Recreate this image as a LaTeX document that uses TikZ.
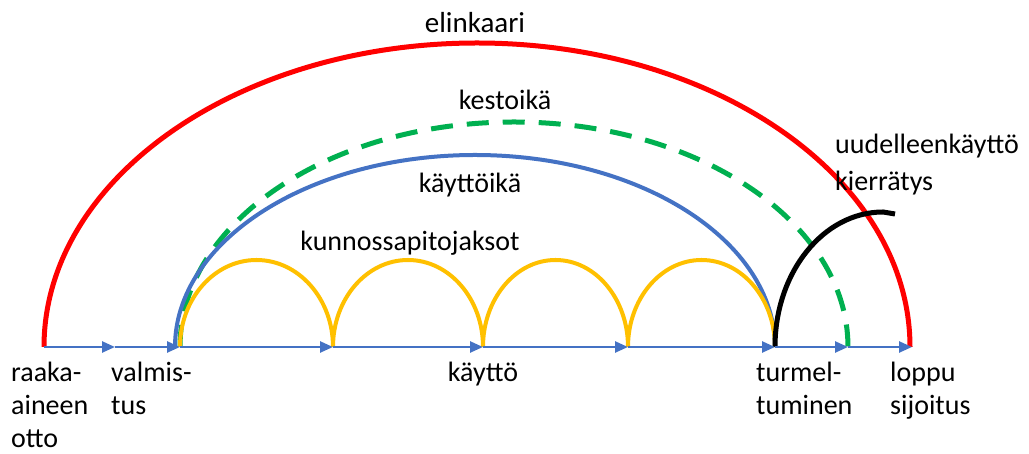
\documentclass[tikz,border=0pt]{standalone}
\usepackage{fontspec}
\setmainfont{Carlito}
\usetikzlibrary{arrows.meta}
\definecolor{punainen}{RGB}{255,0,0}
\definecolor{vihrea}{RGB}{0,176,80}
\definecolor{sininen}{RGB}{68,114,196}
\definecolor{keltainen}{RGB}{255,192,0}
\tikzset{
  vaihe/.style={sininen,line width=2.5pt,-{Triangle[length=13pt,width=11pt]}},
  teksti/.style={inner sep=0pt,align=left,font=\fontsize{28}{33}\selectfont},
}
\begin{document}
\begin{tikzpicture}[x=1pt,y=1pt]
    \useasboundingbox (0,0) rectangle (1029,454);
    \def\pohja{107}

    % pisteet aika-akselilla
    \coordinate (raaka) at (44,\pohja);
    \coordinate (valm1) at (115,\pohja);
    \coordinate (valm2) at (180,\pohja);
    \coordinate (k1) at (333,\pohja);
    \coordinate (k2) at (483,\pohja);
    \coordinate (k3) at (628,\pohja);
    \coordinate (turm) at (775,\pohja);
    \coordinate (kesto) at (848,\pohja);
    \coordinate (loppu) at (912,\pohja);

    % elinkaari
    \draw[punainen,line width=5pt] (raaka) arc[start angle=180,end angle=0,x radius=433,y radius=304];

    % kestoikä
    \draw[vihrea,line width=5pt,dash pattern=on 22pt off 14pt] (valm2) arc[start angle=180,end angle=0,x radius=334,y radius=225];

    % käyttöikä
    \draw[sininen,line width=4pt] (175,\pohja) arc[start angle=180,end angle=0,x radius=300,y radius=192];

    % kunnossapitojaksot
    \draw[keltainen,line width=4pt] (valm2) arc[start angle=180,end angle=0,x radius=76.5,y radius=87];
    \draw[keltainen,line width=4pt] (k1) arc[start angle=180,end angle=0,x radius=75,y radius=87];
    \draw[keltainen,line width=4pt] (k2) arc[start angle=180,end angle=0,x radius=72.5,y radius=87];
    \draw[keltainen,line width=4pt] (k3) arc[start angle=180,end angle=0,x radius=73.5,y radius=87];

    % uudelleenkäyttö
    \draw[black,line width=5pt] (turm) arc[start angle=180,end angle=90,x radius=108,y radius=135] -- ++(12,-2);

    % aika-akseli
    \draw[vaihe] (raaka) -- (valm1);
    \draw[vaihe] (valm1) -- (valm2);
    \draw[vaihe] (valm2) -- (k1);
    \draw[vaihe] (k1) -- (k2);
    \draw[vaihe] (k2) -- (k3);
    \draw[vaihe] (k3) -- (turm);
    \draw[vaihe] (turm) -- (kesto);
    \draw[vaihe] (kesto) -- (loppu);

    % tekstit
    \node[teksti,font=\fontsize{29}{33}\selectfont] (elinkaari) at (475,431) {elinkaari};
    \node[teksti] (kestoika) at (505,354) {kestoikä};
    \node[teksti] (kayttoika) at (470,269) {käyttöikä};
    \node[teksti] (jaksot) at (410,211) {kunnossapitojaksot};
    \node[teksti,anchor=north west,font=\fontsize{28}{37}\selectfont] (uudelleen) at (835,320) {uudelleenkäyttö\\kierrätys};

    \node[teksti,anchor=north west] (ottoteksti) at (11,92) {raaka-\\aineen\\otto};
    \node[teksti,anchor=north west] (valmisteksti) at (111,92) {valmis-\\tus};
    \node[teksti,anchor=north] (kayttoteksti) at (483,92) {käyttö};
    \node[teksti,anchor=north west] (turmelteksti) at (756,92) {turmel-\\tuminen};
    \node[teksti,anchor=north west] (lopputeksti) at (890,92) {loppu\\sijoitus};
\end{tikzpicture}
\end{document}
